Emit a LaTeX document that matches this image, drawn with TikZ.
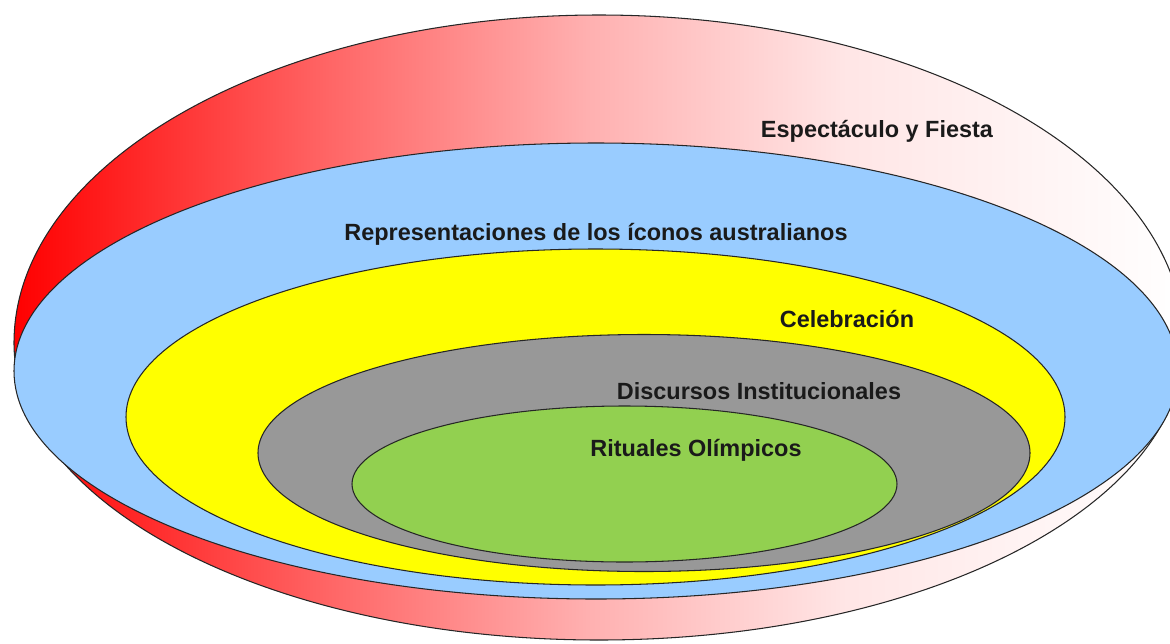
\documentclass[tikz,border=0pt]{standalone}
\usepackage{fontspec}
\setmainfont{Liberation Sans}
\usepackage{tikz}
\usetikzlibrary{calc}
\definecolor{skyblue}{HTML}{99CCFF}
\definecolor{celeyellow}{HTML}{FFFF00}
\definecolor{discgray}{HTML}{989898}
\definecolor{ritgreen}{HTML}{92D050}
\definecolor{txtcol}{HTML}{1A1A1A}
\pgfdeclarehorizontalshading{redfade}{100bp}{color(0bp)=(red); color(25bp)=(red); color(38.5bp)=(red!60!white); color(49.5bp)=(red!31!white); color(60.5bp)=(red!10!white); color(75bp)=(white); color(100bp)=(white)}
\tikzset{
  ring/.style={draw=black!85,line width=0.6pt},
  lbl/.style={font=\fontsize{13.35}{16}\selectfont\bfseries,text=txtcol,inner sep=0pt,anchor=base}
}

\begin{document}
\begin{tikzpicture}[x=0.02cm,y=-0.02cm]
\useasboundingbox (0,0) rectangle (1170,643);
\clip (0,0) rectangle (1170,643);
% outer bowl, red to white
\shadedraw[ring,shading=redfade] (14,343) arc[start angle=180,end angle=360,x radius=585,y radius=328]
  arc[start angle=0,end angle=180,x radius=585,y radius=297] -- cycle;
\draw[ring,fill=skyblue] (596,371) ellipse (582 and 228);%iconos
\draw[ring,fill=celeyellow] (595.5,417) ellipse (469.5 and 168);%celebracion
\draw[ring,fill=discgray] (644,453) ellipse (386 and 118.5);%discursos
\draw[ring,fill=ritgreen] (624.5,484) ellipse (272.5 and 78);%rituales
\node[lbl] (fiesta) at (877,137) {Espectáculo y Fiesta};
\node[lbl] (iconos) at (596,240) {Representaciones de los íconos australianos};
\node[lbl] (celeb) at (847,327) {Celebración};
\node[lbl] (discur) at (759,399) {Discursos Institucionales};
\node[lbl] (ritual) at (696,456) {Rituales Olímpicos};
\end{tikzpicture}
\end{document}
